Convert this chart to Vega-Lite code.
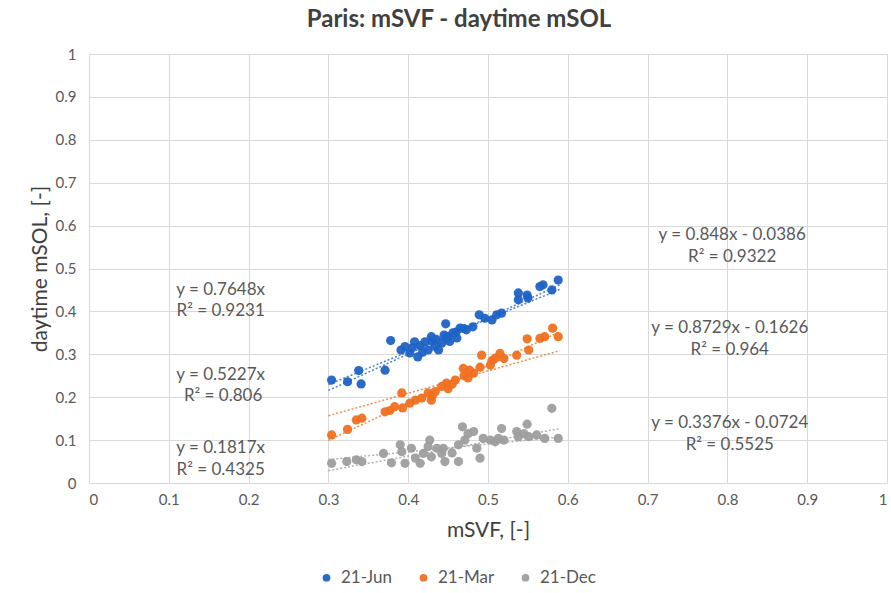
{
  "$schema": "https://vega.github.io/schema/vega-lite/v6.json",
  "width": 798,
  "height": 429,
  "autosize": {"type": "none"},
  "padding": {"left": 89, "top": 54, "right": 4, "bottom": 110},
  "background": "white",
  "title": {"text": "Paris: mSVF - daytime mSOL", "font": "Lato", "fontSize": 24, "fontWeight": "bold", "color": "#404040", "anchor": "middle", "dx": -29, "offset": 15},
  "config": {
    "view": {"stroke": null},
    "axis": {"labelFont": "Lato", "titleFont": "Lato", "labelColor": "#595959", "titleColor": "#404040", "labelFontSize": 15, "titleFontSize": 21, "titleFontWeight": "normal", "gridColor": "#d9d9d9", "gridWidth": 1, "domain": false, "ticks": false},
    "legend": {"labelFont": "Lato", "labelFontSize": 17, "labelColor": "#595959"}
  },
  "datasets": {
    "pts": [
      {"series": "21-Jun", "x": 0.304, "y": 0.240},
      {"series": "21-Jun", "x": 0.324, "y": 0.236},
      {"series": "21-Jun", "x": 0.338, "y": 0.262},
      {"series": "21-Jun", "x": 0.341, "y": 0.231},
      {"series": "21-Jun", "x": 0.371, "y": 0.263},
      {"series": "21-Jun", "x": 0.378, "y": 0.332},
      {"series": "21-Jun", "x": 0.391, "y": 0.310},
      {"series": "21-Jun", "x": 0.396, "y": 0.318},
      {"series": "21-Jun", "x": 0.402, "y": 0.303},
      {"series": "21-Jun", "x": 0.405, "y": 0.315},
      {"series": "21-Jun", "x": 0.412, "y": 0.294},
      {"series": "21-Jun", "x": 0.408, "y": 0.329},
      {"series": "21-Jun", "x": 0.415, "y": 0.320},
      {"series": "21-Jun", "x": 0.418, "y": 0.305},
      {"series": "21-Jun", "x": 0.421, "y": 0.329},
      {"series": "21-Jun", "x": 0.425, "y": 0.310},
      {"series": "21-Jun", "x": 0.429, "y": 0.341},
      {"series": "21-Jun", "x": 0.430, "y": 0.330},
      {"series": "21-Jun", "x": 0.434, "y": 0.318},
      {"series": "21-Jun", "x": 0.435, "y": 0.335},
      {"series": "21-Jun", "x": 0.438, "y": 0.310},
      {"series": "21-Jun", "x": 0.442, "y": 0.326},
      {"series": "21-Jun", "x": 0.445, "y": 0.345},
      {"series": "21-Jun", "x": 0.447, "y": 0.371},
      {"series": "21-Jun", "x": 0.450, "y": 0.341},
      {"series": "21-Jun", "x": 0.452, "y": 0.330},
      {"series": "21-Jun", "x": 0.456, "y": 0.350},
      {"series": "21-Jun", "x": 0.448, "y": 0.338},
      {"series": "21-Jun", "x": 0.461, "y": 0.338},
      {"series": "21-Jun", "x": 0.460, "y": 0.352},
      {"series": "21-Jun", "x": 0.465, "y": 0.361},
      {"series": "21-Jun", "x": 0.470, "y": 0.360},
      {"series": "21-Jun", "x": 0.473, "y": 0.357},
      {"series": "21-Jun", "x": 0.481, "y": 0.364},
      {"series": "21-Jun", "x": 0.489, "y": 0.392},
      {"series": "21-Jun", "x": 0.496, "y": 0.384},
      {"series": "21-Jun", "x": 0.505, "y": 0.380},
      {"series": "21-Jun", "x": 0.511, "y": 0.392},
      {"series": "21-Jun", "x": 0.517, "y": 0.396},
      {"series": "21-Jun", "x": 0.538, "y": 0.443},
      {"series": "21-Jun", "x": 0.538, "y": 0.427},
      {"series": "21-Jun", "x": 0.549, "y": 0.438},
      {"series": "21-Jun", "x": 0.550, "y": 0.431},
      {"series": "21-Jun", "x": 0.565, "y": 0.458},
      {"series": "21-Jun", "x": 0.569, "y": 0.462},
      {"series": "21-Jun", "x": 0.580, "y": 0.450},
      {"series": "21-Jun", "x": 0.588, "y": 0.473},
      {"series": "21-Mar", "x": 0.304, "y": 0.112},
      {"series": "21-Mar", "x": 0.324, "y": 0.125},
      {"series": "21-Mar", "x": 0.335, "y": 0.147},
      {"series": "21-Mar", "x": 0.342, "y": 0.151},
      {"series": "21-Mar", "x": 0.371, "y": 0.166},
      {"series": "21-Mar", "x": 0.377, "y": 0.169},
      {"series": "21-Mar", "x": 0.383, "y": 0.178},
      {"series": "21-Mar", "x": 0.392, "y": 0.210},
      {"series": "21-Mar", "x": 0.393, "y": 0.175},
      {"series": "21-Mar", "x": 0.402, "y": 0.186},
      {"series": "21-Mar", "x": 0.409, "y": 0.193},
      {"series": "21-Mar", "x": 0.417, "y": 0.198},
      {"series": "21-Mar", "x": 0.425, "y": 0.210},
      {"series": "21-Mar", "x": 0.429, "y": 0.193},
      {"series": "21-Mar", "x": 0.430, "y": 0.203},
      {"series": "21-Mar", "x": 0.434, "y": 0.213},
      {"series": "21-Mar", "x": 0.442, "y": 0.225},
      {"series": "21-Mar", "x": 0.448, "y": 0.233},
      {"series": "21-Mar", "x": 0.450, "y": 0.220},
      {"series": "21-Mar", "x": 0.455, "y": 0.230},
      {"series": "21-Mar", "x": 0.459, "y": 0.240},
      {"series": "21-Mar", "x": 0.469, "y": 0.267},
      {"series": "21-Mar", "x": 0.470, "y": 0.250},
      {"series": "21-Mar", "x": 0.475, "y": 0.245},
      {"series": "21-Mar", "x": 0.477, "y": 0.263},
      {"series": "21-Mar", "x": 0.482, "y": 0.256},
      {"series": "21-Mar", "x": 0.490, "y": 0.270},
      {"series": "21-Mar", "x": 0.492, "y": 0.298},
      {"series": "21-Mar", "x": 0.503, "y": 0.275},
      {"series": "21-Mar", "x": 0.505, "y": 0.285},
      {"series": "21-Mar", "x": 0.509, "y": 0.291},
      {"series": "21-Mar", "x": 0.515, "y": 0.302},
      {"series": "21-Mar", "x": 0.520, "y": 0.290},
      {"series": "21-Mar", "x": 0.536, "y": 0.298},
      {"series": "21-Mar", "x": 0.549, "y": 0.336},
      {"series": "21-Mar", "x": 0.551, "y": 0.310},
      {"series": "21-Mar", "x": 0.565, "y": 0.337},
      {"series": "21-Mar", "x": 0.571, "y": 0.341},
      {"series": "21-Mar", "x": 0.581, "y": 0.361},
      {"series": "21-Mar", "x": 0.588, "y": 0.341},
      {"series": "21-Dec", "x": 0.304, "y": 0.046},
      {"series": "21-Dec", "x": 0.323, "y": 0.050},
      {"series": "21-Dec", "x": 0.335, "y": 0.054},
      {"series": "21-Dec", "x": 0.342, "y": 0.050},
      {"series": "21-Dec", "x": 0.369, "y": 0.069},
      {"series": "21-Dec", "x": 0.379, "y": 0.047},
      {"series": "21-Dec", "x": 0.390, "y": 0.089},
      {"series": "21-Dec", "x": 0.392, "y": 0.073},
      {"series": "21-Dec", "x": 0.396, "y": 0.046},
      {"series": "21-Dec", "x": 0.404, "y": 0.081},
      {"series": "21-Dec", "x": 0.409, "y": 0.058},
      {"series": "21-Dec", "x": 0.415, "y": 0.046},
      {"series": "21-Dec", "x": 0.419, "y": 0.069},
      {"series": "21-Dec", "x": 0.425, "y": 0.085},
      {"series": "21-Dec", "x": 0.427, "y": 0.100},
      {"series": "21-Dec", "x": 0.429, "y": 0.061},
      {"series": "21-Dec", "x": 0.436, "y": 0.081},
      {"series": "21-Dec", "x": 0.442, "y": 0.069},
      {"series": "21-Dec", "x": 0.446, "y": 0.050},
      {"series": "21-Dec", "x": 0.444, "y": 0.081},
      {"series": "21-Dec", "x": 0.455, "y": 0.070},
      {"series": "21-Dec", "x": 0.463, "y": 0.050},
      {"series": "21-Dec", "x": 0.463, "y": 0.089},
      {"series": "21-Dec", "x": 0.468, "y": 0.131},
      {"series": "21-Dec", "x": 0.471, "y": 0.100},
      {"series": "21-Dec", "x": 0.475, "y": 0.115},
      {"series": "21-Dec", "x": 0.482, "y": 0.120},
      {"series": "21-Dec", "x": 0.486, "y": 0.081},
      {"series": "21-Dec", "x": 0.490, "y": 0.058},
      {"series": "21-Dec", "x": 0.494, "y": 0.104},
      {"series": "21-Dec", "x": 0.503, "y": 0.100},
      {"series": "21-Dec", "x": 0.509, "y": 0.096},
      {"series": "21-Dec", "x": 0.513, "y": 0.104},
      {"series": "21-Dec", "x": 0.517, "y": 0.127},
      {"series": "21-Dec", "x": 0.520, "y": 0.100},
      {"series": "21-Dec", "x": 0.536, "y": 0.120},
      {"series": "21-Dec", "x": 0.538, "y": 0.108},
      {"series": "21-Dec", "x": 0.545, "y": 0.115},
      {"series": "21-Dec", "x": 0.549, "y": 0.137},
      {"series": "21-Dec", "x": 0.551, "y": 0.108},
      {"series": "21-Dec", "x": 0.561, "y": 0.112},
      {"series": "21-Dec", "x": 0.571, "y": 0.104},
      {"series": "21-Dec", "x": 0.580, "y": 0.174},
      {"series": "21-Dec", "x": 0.588, "y": 0.104}
    ],
    "fits": [
      {"series": "21-Jun", "fit": "Jun-a", "x": 0.30, "y": 0.2158},
      {"series": "21-Jun", "fit": "Jun-a", "x": 0.59, "y": 0.4617},
      {"series": "21-Jun", "fit": "Jun-b", "x": 0.30, "y": 0.2294},
      {"series": "21-Jun", "fit": "Jun-b", "x": 0.59, "y": 0.4512},
      {"series": "21-Mar", "fit": "Mar-a", "x": 0.30, "y": 0.0993},
      {"series": "21-Mar", "fit": "Mar-a", "x": 0.59, "y": 0.3524},
      {"series": "21-Mar", "fit": "Mar-b", "x": 0.30, "y": 0.1568},
      {"series": "21-Mar", "fit": "Mar-b", "x": 0.59, "y": 0.3084},
      {"series": "21-Dec", "fit": "Dec-a", "x": 0.30, "y": 0.0289},
      {"series": "21-Dec", "fit": "Dec-a", "x": 0.59, "y": 0.1268},
      {"series": "21-Dec", "fit": "Dec-b", "x": 0.30, "y": 0.0545},
      {"series": "21-Dec", "fit": "Dec-b", "x": 0.59, "y": 0.1072}
    ],
    "labels": [
      {"text": "y = 0.7648x", "x": 0.165, "y": 0.450},
      {"text": "R² = 0.9231", "x": 0.165, "y": 0.400},
      {"text": "y = 0.5227x", "x": 0.165, "y": 0.252},
      {"text": "R² = 0.806", "x": 0.168, "y": 0.203},
      {"text": "y = 0.1817x", "x": 0.165, "y": 0.082},
      {"text": "R² = 0.4325", "x": 0.165, "y": 0.030},
      {"text": "y = 0.848x - 0.0386", "x": 0.806, "y": 0.578},
      {"text": "R² = 0.9322", "x": 0.806, "y": 0.527},
      {"text": "y = 0.8729x - 0.1626", "x": 0.803, "y": 0.361},
      {"text": "R² = 0.964", "x": 0.803, "y": 0.310},
      {"text": "y = 0.3376x - 0.0724", "x": 0.803, "y": 0.140},
      {"text": "R² = 0.5525", "x": 0.803, "y": 0.088}
    ]
  },
  "layer": [
    {
      "data": {"name": "pts"},
      "mark": {"type": "point", "filled": true, "size": 85, "opacity": 0.95},
      "encoding": {
        "x": {"field": "x", "type": "quantitative", "scale": {"domain": [0, 1], "nice": false}, "axis": {"title": "mSVF, [-]", "values": [0, 0.1, 0.2, 0.3, 0.4, 0.5, 0.6, 0.7, 0.8, 0.9, 1], "labelPadding": 9, "titlePadding": 12, "format": "~g"}},
        "y": {"field": "y", "type": "quantitative", "scale": {"domain": [0, 1], "nice": false}, "axis": {"title": "daytime mSOL, [-]", "values": [0, 0.1, 0.2, 0.3, 0.4, 0.5, 0.6, 0.7, 0.8, 0.9, 1], "labelPadding": 13, "titlePadding": 5, "format": "~g"}},
        "color": {"field": "series", "type": "nominal", "sort": ["21-Jun", "21-Mar", "21-Dec"],
          "scale": {"domain": ["21-Jun", "21-Mar", "21-Dec"], "range": ["#1F63C6", "#F07020", "#9E9E9E"]},
          "legend": {"title": null, "orient": "none", "direction": "horizontal", "legendX": 229, "legendY": 515, "symbolType": "circle", "symbolSize": 60, "symbolStrokeWidth": 0, "symbolDash": [], "columnPadding": 22, "labelOffset": 6}}
      }
    },
    {
      "data": {"name": "fits"},
      "mark": {"type": "line", "strokeDash": [2, 2], "strokeWidth": 1.5, "opacity": 0.8},
      "encoding": {
        "x": {"field": "x", "type": "quantitative"},
        "y": {"field": "y", "type": "quantitative"},
        "detail": {"field": "fit"},
        "color": {"field": "series", "type": "nominal"}
      }
    },
    {
      "data": {"name": "labels"},
      "mark": {"type": "text", "font": "Lato", "fontSize": 17, "color": "#595959", "align": "center", "baseline": "middle"},
      "encoding": {
        "x": {"field": "x", "type": "quantitative"},
        "y": {"field": "y", "type": "quantitative"},
        "text": {"field": "text"}
      }
    }
  ]
}
